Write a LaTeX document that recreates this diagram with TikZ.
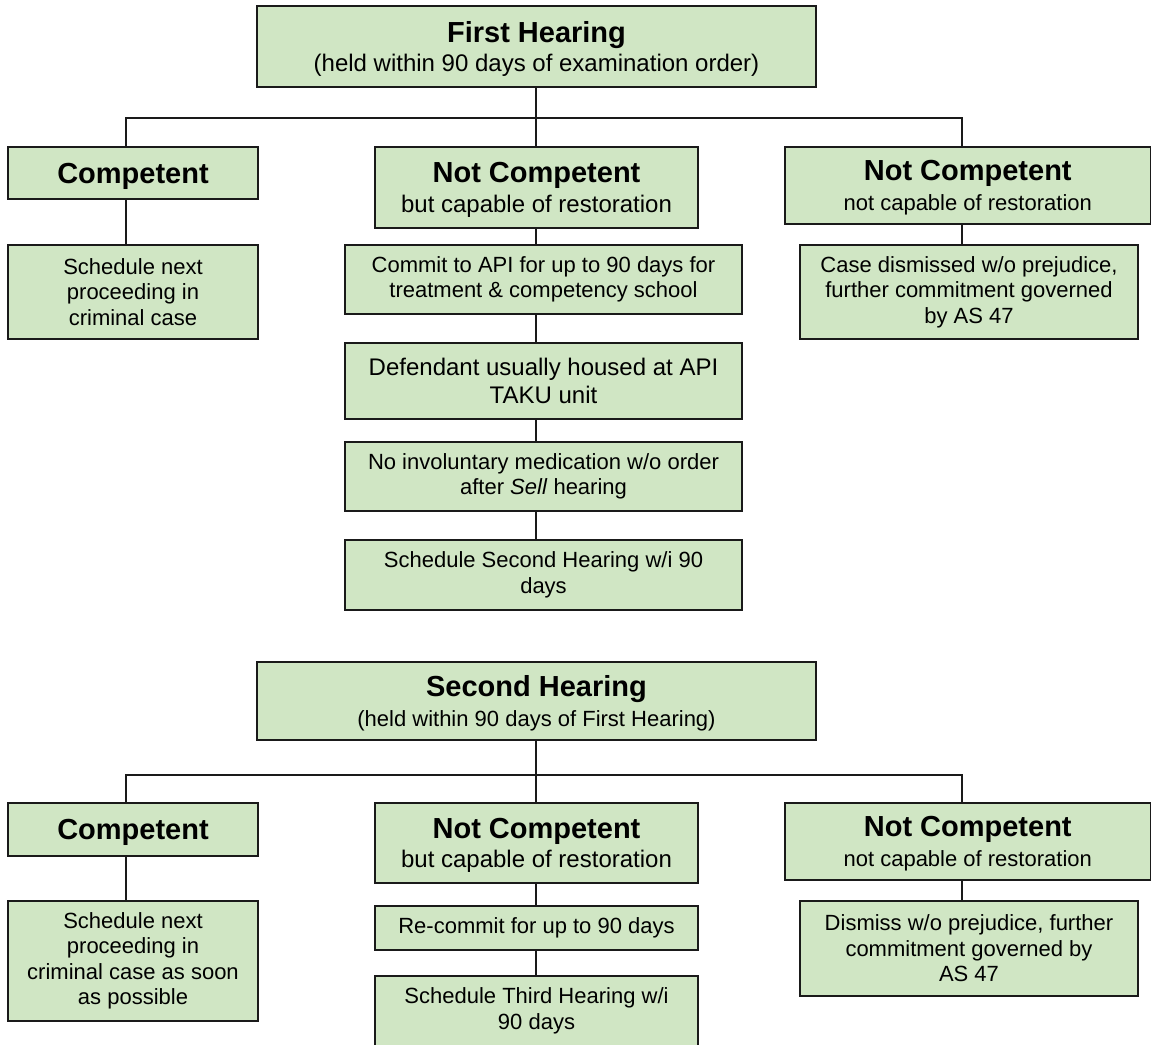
\documentclass[tikz,border=0pt]{standalone}
\usepackage{fontspec}
\setmainfont{Liberation Sans}
\definecolor{boxg}{RGB}{208,230,196}
\definecolor{linec}{RGB}{26,26,26}
\newcommand{\myBody}{\fontsize{22}{25.5}\selectfont}
\newcommand{\myBodyL}{\fontsize{24}{28}\selectfont}
\newcommand{\myHead}{\fontsize{29}{29.5}\selectfont\bfseries}
\newcommand{\mySubA}{\fontsize{24}{29.5}\selectfont}
\newcommand{\mySubB}{\fontsize{22}{29.5}\selectfont}
\tikzset{
  bx/.style={draw=linec, fill=boxg, line width=1.3pt, rectangle, inner sep=0pt, align=center, font=\myBody},
  hd/.style={bx, font=\mySubA, text depth=-3pt},
  ln/.style={draw=linec, line width=1.3pt},
}
\begin{document}
\begin{tikzpicture}[x=1pt,y=-1pt]
\useasboundingbox (0,0) rectangle (1151,1044);
\clip (0,0) rectangle (1151,1044);
\fill[white] (0,0) rectangle (1151,1044);

% ---------- First Hearing ----------
\node[hd, minimum width=559pt, minimum height=81pt] (fh) at (536.5,46.5)
  {{\myHead First Hearing}\\(held within 90 days of examination order)};
\node[hd, minimum width=250pt, minimum height=52pt] (c1) at (133,173)
  {{\myHead Competent}};
\node[hd, minimum width=323pt, minimum height=81pt] (nc1) at (536.5,187.5)
  {{\myHead Not Competent}\\but capable of restoration};
\node[hd, font=\mySubB, minimum width=365.5pt, minimum height=77pt] (nn1) at (967.75,185.5)
  {{\myHead Not Competent}\\not capable of restoration};
\node[bx, minimum width=250pt, minimum height=94pt] (s1) at (133,292)
  {Schedule next\\proceeding in\\criminal case};
\node[bx, minimum width=397pt, minimum height=69pt] (com) at (543.5,279.5)
  {Commit to API for up to 90 days for\\treatment \& competency school};
\node[bx, minimum width=338pt, minimum height=94pt] (cd1) at (969,292)
  {Case dismissed w/o prejudice,\\further commitment governed\\by AS 47};
\node[bx, font=\myBodyL, minimum width=397pt, minimum height=76pt] (def) at (543.5,381)
  {Defendant usually housed at API\\TAKU unit};
\node[bx, minimum width=397pt, minimum height=69pt] (inv) at (543.5,476.5)
  {No involuntary medication w/o order\\after \textit{Sell} hearing};
\node[bx, minimum width=397pt, minimum height=70pt] (ss) at (543.5,575)
  {Schedule Second Hearing w/i 90\\days};

\coordinate (ja) at (536,118);
\coordinate (jl) at (126,118);
\coordinate (jr) at (962,118);
\draw[ln] (ja |- fh.south) -- (ja);
\draw[ln] (jl |- c1.north) -- (jl) -- (jr) -- (jr |- nn1.north);
\draw[ln] (ja) -- (ja |- nc1.north);
\draw[ln] (jl |- c1.south) -- (jl |- s1.north);
\draw[ln] (ja |- nc1.south) -- (ja |- com.north);
\draw[ln] (jr |- nn1.south) -- (jr |- cd1.north);
\draw[ln] (ja |- com.south) -- (ja |- def.north);
\draw[ln] (ja |- def.south) -- (ja |- inv.north);
\draw[ln] (ja |- inv.south) -- (ja |- ss.north);

% ---------- Second Hearing ----------
\node[hd, font=\mySubB, minimum width=559pt, minimum height=78pt] (sh) at (536.5,701)
  {{\myHead Second Hearing}\\(held within 90 days of First Hearing)};
\node[hd, minimum width=250pt, minimum height=53pt] (c2) at (133,829.5)
  {{\myHead Competent}};
\node[hd, minimum width=323pt, minimum height=80pt] (nc2) at (536.5,843)
  {{\myHead Not Competent}\\but capable of restoration};
\node[hd, font=\mySubB, minimum width=365.5pt, minimum height=77pt] (nn2) at (967.75,841.5)
  {{\myHead Not Competent}\\not capable of restoration};
\node[bx, minimum width=250pt, minimum height=120pt] (s2) at (133,961)
  {Schedule next\\proceeding in\\criminal case as soon\\as possible};
\node[bx, minimum width=323pt, minimum height=44pt] (rc) at (536.5,928)
  {Re-commit for up to 90 days};
\node[bx, minimum width=323pt, minimum height=70pt] (st) at (536.5,1011)
  {Schedule Third Hearing w/i\\90 days};
\node[bx, minimum width=338pt, minimum height=95pt] (dm) at (969,948.5)
  {Dismiss w/o prejudice, further\\commitment governed by\\AS 47};

\coordinate (ka) at (536,775);
\coordinate (kl) at (126,775);
\coordinate (kr) at (962,775);
\draw[ln] (ka |- sh.south) -- (ka);
\draw[ln] (kl |- c2.north) -- (kl) -- (kr) -- (kr |- nn2.north);
\draw[ln] (ka) -- (ka |- nc2.north);
\draw[ln] (kl |- c2.south) -- (kl |- s2.north);
\draw[ln] (ka |- nc2.south) -- (ka |- rc.north);
\draw[ln] (kr |- nn2.south) -- (kr |- dm.north);
\draw[ln] (ka |- rc.south) -- (ka |- st.north);
\end{tikzpicture}
\end{document}
